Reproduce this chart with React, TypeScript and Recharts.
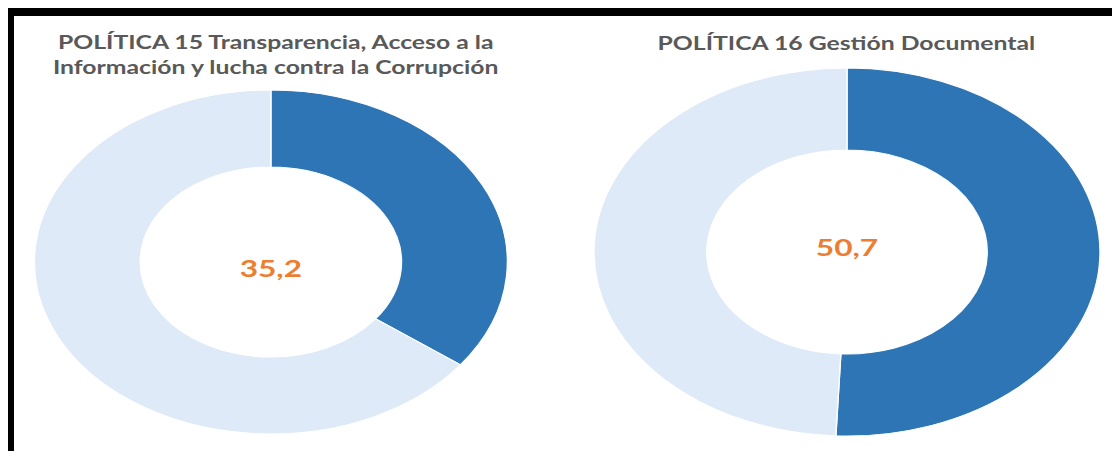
import { PieChart, Pie, Cell } from "recharts";

const policyNames = ["POLÍTICA 15", "POLÍTICA 16"];
const scoreLabels = ["35,2", "50,7"];
const policy15 = [
  { name: "Puntaje", value: 35.2 },
  { name: "Brecha", value: 64.8 },
];
const policy16 = [
  { name: "Puntaje", value: 50.7 },
  { name: "Brecha", value: 49.3 },
];
const sliceColors = ["#2E75B6", "#DEEAF7"];

const SX = 1.375;
const pies = [
  { cx: 197, cy: 262, inner: 95, outer: 172, labelDy: 6 },
  { cx: 616, cy: 252, inner: 102, outer: 184, labelDy: -5 },
];

const titleStyle: React.CSSProperties = {
  position: "absolute",
  textAlign: "center",
  fontFamily: "Lato, 'Open Sans', sans-serif",
  fontWeight: 700,
  fontSize: 18,
  lineHeight: "25px",
  color: "#595959",
  whiteSpace: "nowrap",
};

const centerStyle: React.CSSProperties = {
  position: "absolute",
  width: 100,
  height: 30,
  lineHeight: "30px",
  textAlign: "center",
  fontFamily: "Lato, 'Open Sans', sans-serif",
  fontWeight: 700,
  fontSize: 23,
  color: "#ED7D31",
};

export default function App() {
  return (
    <div style={{ position: "relative", margin: -8, width: 1120, height: 459, background: "#fff", overflow: "hidden" }}>
      <div
        style={{
          position: "absolute",
          left: 7,
          top: 8,
          width: 1113,
          height: 451,
          boxSizing: "border-box",
          borderTop: "8px solid #000",
          borderLeft: "7px solid #000",
          borderBottom: "2px solid #000",
        }}
      />
      <div
        style={{
          position: "absolute",
          left: 0,
          top: 0,
          width: 1120 / SX,
          height: 459,
          transform: `scaleX(${SX})`,
          transformOrigin: "0 0",
        }}
      >
        <div style={{ ...titleStyle, left: 0, width: 401, top: 30 }}>
          {policyNames[0]} Transparencia, Acceso a la
          <br />
          Información y lucha contra la Corrupción
        </div>
        <div style={{ ...titleStyle, left: 415, width: 401, top: 31 }}>
          {policyNames[1]} Gestión Documental
        </div>
        <div style={{ position: "absolute", left: 0, top: 0 }}>
          <PieChart width={815} height={459} margin={{ top: 0, right: 0, bottom: 0, left: 0 }}>
            {[policy15, policy16].map((data, k) => (
              <Pie
                key={k}
                data={data}
                dataKey="value"
                cx={pies[k].cx}
                cy={pies[k].cy}
                innerRadius={pies[k].inner}
                outerRadius={pies[k].outer}
                startAngle={90}
                endAngle={-270}
                stroke="#fff"
                strokeWidth={1}
                isAnimationActive={false}
              >
                {data.map((d, i) => (
                  <Cell key={d.name} fill={sliceColors[i]} />
                ))}
              </Pie>
            ))}
          </PieChart>
        </div>
        {scoreLabels.map((s, k) => (
          <div
            key={s}
            style={{ ...centerStyle, left: pies[k].cx - 50, top: pies[k].cy + pies[k].labelDy - 15 }}
          >
            {s}
          </div>
        ))}
      </div>
    </div>
  );
}
